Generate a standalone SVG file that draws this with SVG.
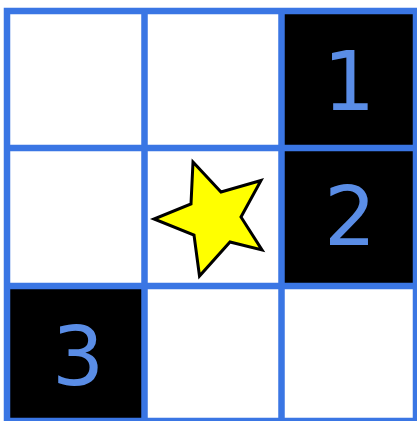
<svg xmlns="http://www.w3.org/2000/svg" width="417" height="421" viewBox="0 0 417 421">
<style>
.cell{fill:#ffffff}
.dark{fill:#000000}
.num{font-family:"DejaVu Sans",sans-serif;font-size:82px;fill:#5a8de6;text-anchor:middle}
.grid{stroke:#3a76e4;stroke-width:6.5;fill:none}
.star{fill:#ffff00;stroke:#000000;stroke-width:3;stroke-linejoin:miter}
</style>
<rect x="0" y="0" width="417" height="421" fill="#ffffff"/>
<g id="cell-r0c0"><rect class="cell" x="7" y="11" width="137.5" height="137"/></g>
<g id="cell-r0c1"><rect class="cell" x="144.5" y="11" width="137" height="137"/></g>
<g id="cell-r0c2"><rect class="dark" x="281.5" y="11" width="135.5" height="137"/><text class="num" x="349" y="110">1</text></g>
<g id="cell-r1c0"><rect class="cell" x="7" y="148" width="137.5" height="138"/></g>
<g id="cell-r1c1"><rect class="cell" x="144.5" y="148" width="137" height="138"/>
<polygon class="star" points="193,162 221,192 261,180.5 241,217 262,250 230,242 199.5,276 194,235 154,219 191,204"/></g>
<g id="cell-r1c2"><rect class="dark" x="281.5" y="148" width="135.5" height="138"/><text class="num" x="350" y="245">2</text></g>
<g id="cell-r2c0"><rect class="dark" x="7" y="286" width="137.5" height="135"/><text class="num" x="78" y="385">3</text></g>
<g id="cell-r2c1"><rect class="cell" x="144.5" y="286" width="137" height="135"/></g>
<g id="cell-r2c2"><rect class="cell" x="281.5" y="286" width="135.5" height="135"/></g>
<g id="grid">
<path class="grid" d="M7,7.75V424 M144.5,7.75V424 M281.5,7.75V424 M416,7.75V424 M3.75,11H420 M3.75,148H420 M3.75,286H420 M3.75,421H420"/>
</g>
</svg>
